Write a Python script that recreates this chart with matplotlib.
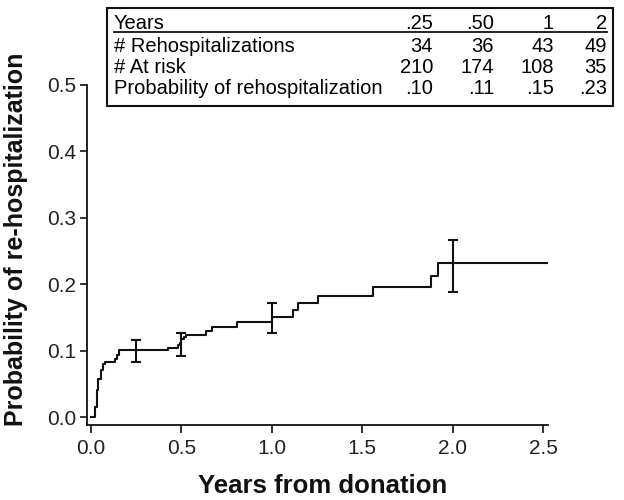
import numpy as np
import matplotlib.pyplot as plt
from matplotlib.patches import Rectangle
from matplotlib.lines import Line2D

plt.rcParams['font.family'] = ['Liberation Sans', 'DejaVu Sans']

# cumulative probability of rehospitalization (step function)
times = [0.0, 0.022, 0.031, 0.040, 0.053, 0.064, 0.077, 0.133, 0.146, 0.157,
         0.427, 0.48, 0.49, 0.50, 0.514, 0.525, 0.635, 0.667, 0.805, 1.0,
         1.118, 1.142, 1.256, 1.56, 1.878, 1.919, 2.527]
prob = [0.0, 0.015, 0.041, 0.057, 0.071, 0.080, 0.083, 0.087, 0.093, 0.101,
        0.104, 0.108, 0.112, 0.117, 0.121, 0.124, 0.130, 0.136, 0.143, 0.150,
        0.161, 0.171, 0.182, 0.196, 0.212, 0.232, 0.232]

# confidence intervals at the table years
ci_x = [0.25, 0.5, 1.0, 2.0]
ci_mid = [0.100, 0.110, 0.148, 0.232]
ci_lo = [0.083, 0.092, 0.126, 0.188]
ci_hi = [0.116, 0.127, 0.171, 0.267]

# table
tab_head = ['.25', '.50', '1', '2']
tab_rows = ['# Rehospitalizations', '# At risk', 'Probability of rehospitalization']
tab_vals = [['34', '36', '43', '49'],
            ['210', '174', '108', '35'],
            ['.10', '.11', '.15', '.23']]

fig = plt.figure(figsize=(6.24, 5), dpi=100)
W, H = 624, 500
ax = fig.add_axes([87 / W, 1 - 425 / H, (548 - 87) / W, (425 - 85) / H])

ax.step(times, prob, where='post', color='#111111', lw=1.5)
yerr = [np.array(ci_mid) - np.array(ci_lo), np.array(ci_hi) - np.array(ci_mid)]
ax.errorbar(ci_x, ci_mid, yerr=yerr, fmt='none', ecolor='#111111',
            elinewidth=1.5, capsize=3.3, capthick=1.5)

ax.set_xlim(-0.022, 2.527)
ax.set_ylim(-0.012, 0.5)
ax.set_xticks([0, 0.5, 1.0, 1.5, 2.0, 2.5])
ax.set_xticklabels(['0.0', '0.5', '1.0', '1.5', '2.0', '2.5'])
ax.set_yticks([0, 0.1, 0.2, 0.3, 0.4, 0.5])
ax.set_yticklabels(['0.0', '0.1', '0.2', '0.3', '0.4', '0.5'])
ax.spines['top'].set_visible(False)
ax.spines['right'].set_visible(False)
for s in ['left', 'bottom']:
    ax.spines[s].set_linewidth(1.3)
    ax.spines[s].set_color('#111111')
ax.tick_params(axis='both', labelsize=15, width=1.2, color='#111111',
               labelcolor='#222222')
ax.tick_params(axis='x', length=6, pad=4)
ax.tick_params(axis='y', length=5, pad=3)

ax.set_xlabel('Years from donation', fontsize=18.5, fontweight='bold', color='#111111')
ax.set_ylabel('Probability of re-hospitalization', fontsize=18,
              fontweight='bold', color='#111111')
ax.xaxis.set_label_coords(0.512, -0.143)
ax.yaxis.set_label_coords(-0.127, 0.545)

# table box
fig.patches.append(Rectangle((107 / W, 1 - 106 / H), (613 - 107) / W, (106 - 8) / H,
                             transform=fig.transFigure, fill=False,
                             lw=1.5, ec='#111111'))
fig.lines.append(Line2D([114 / W, 607 / W], [1 - 32 / H, 1 - 32 / H],
                        transform=fig.transFigure, lw=1.3, color='#111111'))
col_x = [433, 494, 554, 607]
row_y = [29, 51.5, 73, 94.5]
fs = 14.5
fig.text(114 / W, 1 - row_y[0] / H, 'Years', fontsize=fs, va='baseline', ha='left')
for cx, h in zip(col_x, tab_head):
    fig.text(cx / W, 1 - row_y[0] / H, h, fontsize=fs, va='baseline', ha='right')
for ry, name, vals in zip(row_y[1:], tab_rows, tab_vals):
    fig.text(114 / W, 1 - ry / H, name, fontsize=fs, va='baseline', ha='left')
    for cx, v in zip(col_x, vals):
        fig.text(cx / W, 1 - ry / H, v, fontsize=fs, va='baseline', ha='right')

fig.savefig('out.png', dpi=100)
